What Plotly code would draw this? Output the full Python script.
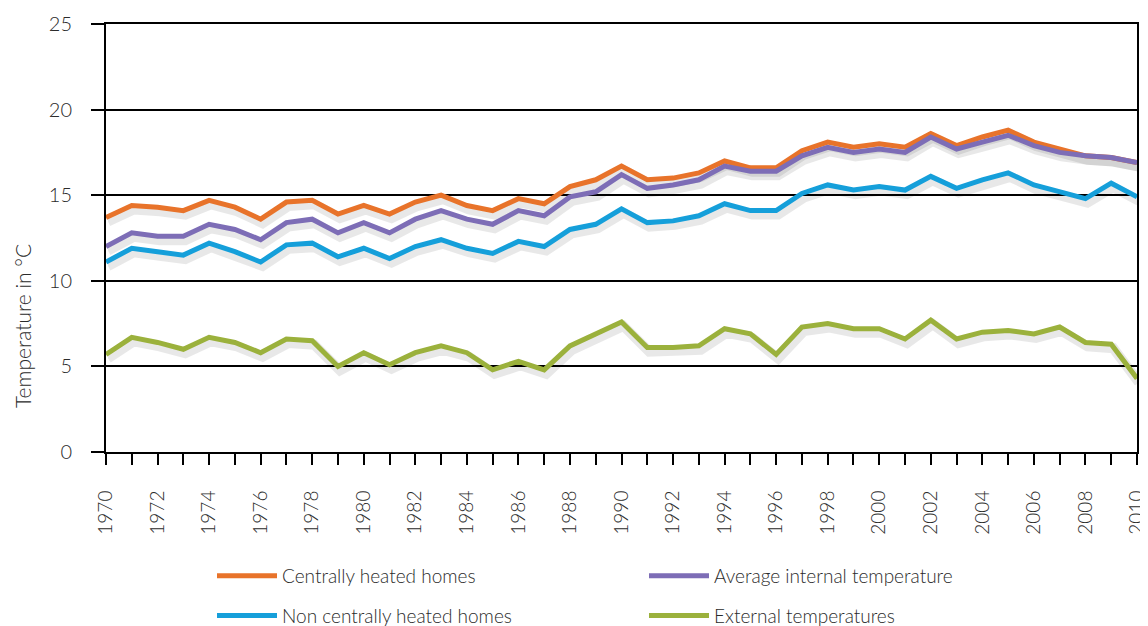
import plotly.graph_objects as go

years = list(range(1970, 2011))

centrally_heated = [13.7, 14.4, 14.3, 14.1, 14.7, 14.3, 13.6, 14.6, 14.7, 13.9,
                    14.4, 13.9, 14.6, 15.0, 14.4, 14.1, 14.8, 14.5, 15.5, 15.9,
                    16.7, 15.9, 16.0, 16.3, 17.0, 16.6, 16.6, 17.6, 18.1, 17.8,
                    18.0, 17.8, 18.6, 17.9, 18.4, 18.8, 18.1, 17.7, 17.3, 17.2, 16.9]
average_internal = [12.0, 12.8, 12.6, 12.6, 13.3, 13.0, 12.4, 13.4, 13.6, 12.8,
                    13.4, 12.8, 13.6, 14.1, 13.6, 13.3, 14.1, 13.8, 14.9, 15.2,
                    16.2, 15.4, 15.6, 15.9, 16.7, 16.4, 16.4, 17.3, 17.8, 17.5,
                    17.7, 17.5, 18.4, 17.7, 18.1, 18.5, 17.9, 17.5, 17.3, 17.2, 16.9]
non_central = [11.1, 11.9, 11.7, 11.5, 12.2, 11.7, 11.1, 12.1, 12.2, 11.4,
               11.9, 11.3, 12.0, 12.4, 11.9, 11.6, 12.3, 12.0, 13.0, 13.3,
               14.2, 13.4, 13.5, 13.8, 14.5, 14.1, 14.1, 15.1, 15.6, 15.3,
               15.5, 15.3, 16.1, 15.4, 15.9, 16.3, 15.6, 15.2, 14.8, 15.7, 14.9]
external = [5.7, 6.7, 6.4, 6.0, 6.7, 6.4, 5.8, 6.6, 6.5, 5.0,
            5.8, 5.1, 5.8, 6.2, 5.8, 4.8, 5.3, 4.8, 6.2, 6.9,
            7.6, 6.1, 6.1, 6.2, 7.2, 6.9, 5.7, 7.3, 7.5, 7.2,
            7.2, 6.6, 7.7, 6.6, 7.0, 7.1, 6.9, 7.3, 6.4, 6.3, 4.3]

series = [
    ("Centrally heated homes", centrally_heated, "#E8732A", "legend"),
    ("Average internal temperature", average_internal, "#7D6DB6", "legend2"),
    ("Non centrally heated homes", non_central, "#159FDA", "legend"),
    ("External temperatures", external, "#9BB13C", "legend2"),
]

FONT = "Lato"
TXT = "#2b2b2b"

fig = go.Figure()

# soft drop shadows, drawn on a twin subplot nudged a few px down/right
for name, vals, color, lg in series:
    fig.add_trace(go.Scatter(x=years, y=vals, mode="lines", xaxis="x", yaxis="y",
                             line=dict(color="rgba(0,0,0,0.09)", width=10),
                             hoverinfo="skip", showlegend=False))

for name, vals, color, lg in series:
    fig.add_trace(go.Scatter(x=years, y=vals, mode="lines", name=name,
                             xaxis="x2", yaxis="y2", legend=lg,
                             legendgroup=name,
                             line=dict(color=color, width=5)))

# the page body has an 8px margin, so the figure is drawn 8px in from the corner
W, H = 1033, 432
fig.update_layout(
    width=1140, height=618,
    margin=dict(l=98, r=9, t=16, b=170, autoexpand=False),
    paper_bgcolor="white", plot_bgcolor="rgba(0,0,0,0)",
    font=dict(family=FONT, size=18, color=TXT, weight=300),
    xaxis=dict(domain=[2 / W, 1], range=[1970, 2010], visible=False),
    yaxis=dict(domain=[0, (H - 4) / H], range=[0, 25], visible=False),
    xaxis2=dict(domain=[0, (W - 2) / W], range=[1970, 2010], anchor="y2",
                automargin=False,
                showline=True, linecolor="black", linewidth=2, mirror=True,
                showgrid=False, zeroline=False,
                tickmode="linear", tick0=1970, dtick=2,
                ticks="outside", ticklen=11, tickwidth=2, tickcolor="black",
                minor=dict(dtick=1, ticks="outside", ticklen=11, tickwidth=2,
                           tickcolor="black"),
                tickangle=-90, tickfont=dict(size=19, color=TXT),
                ticklabelstandoff=18),
    yaxis2=dict(domain=[4 / H, 1], range=[0, 25], anchor="x2",
                automargin=False,
                showline=True, linecolor="black", linewidth=2, mirror=True,
                showgrid=True, gridcolor="black", gridwidth=2, zeroline=False,
                tickmode="linear", tick0=0, dtick=5,
                ticks="outside", ticklen=13, tickwidth=2, tickcolor="black",
                tickfont=dict(size=20, color=TXT), ticklabelstandoff=15),
    legend=dict(x=(212 - 106) / W, y=(456 - 557) / H, xanchor="left", yanchor="top",
                orientation="v", itemwidth=60, tracegroupgap=12,
                font=dict(size=19, color=TXT), bgcolor="rgba(0,0,0,0)"),
    legend2=dict(x=(644 - 106) / W, y=(456 - 557) / H, xanchor="left", yanchor="top",
                 orientation="v", itemwidth=60, tracegroupgap=12,
                 font=dict(size=19, color=TXT), bgcolor="rgba(0,0,0,0)"),
    annotations=[dict(text="Temperature in °C", textangle=-90, showarrow=False,
                      xref="paper", yref="paper", xanchor="center", yanchor="middle",
                      x=(22 - 106) / W, y=(456 - 326) / H,
                      font=dict(size=21, color=TXT))],
)

fig.write_html("out.html")
